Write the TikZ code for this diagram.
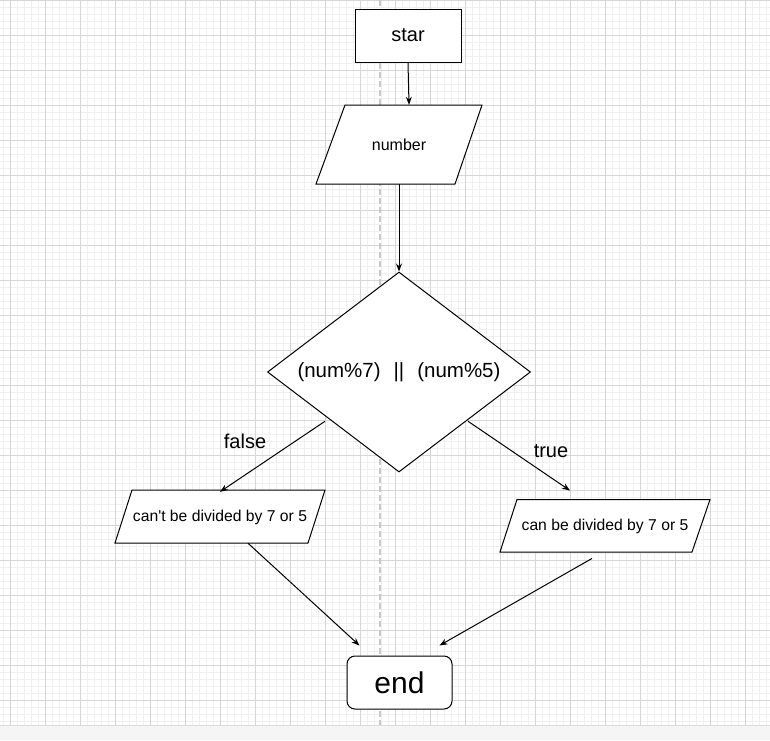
\documentclass[tikz,border=0pt]{standalone}
\usepackage{fontspec}
\setmainfont{Liberation Sans}
\usetikzlibrary{shapes.geometric,arrows.meta}
\definecolor{gridminor}{HTML}{F0F0F0}
\definecolor{gridmajor}{HTML}{D6D6D6}
\definecolor{guide}{HTML}{C8C8C8}
\definecolor{strip}{HTML}{F5F5F5}
\definecolor{stripline}{HTML}{DADADA}
\tikzset{
  box/.style={draw=black, fill=white, line width=1pt, minimum width=106pt, minimum height=53pt, inner sep=0pt},
  iotext/.style={draw=none, inner sep=0pt},
  cond/.style={diamond, draw=black, fill=white, line width=1pt, inner sep=0pt, minimum width=263pt, minimum height=200pt, aspect=1.315},
  term/.style={draw=black, fill=white, rounded corners=8pt, line width=1pt, minimum width=105pt, minimum height=53pt, inner sep=0pt},
  flow/.style={line width=1pt, -{Stealth[length=8pt,width=6pt]}},
  para/.style={draw=black, fill=white, line width=1pt, line join=miter},
  lbl/.style={inner sep=0pt},
}
\begin{document}
\begin{tikzpicture}[x=1pt,y=-1pt]
\useasboundingbox (0,0) rectangle (770,740);
% grid
\foreach \x in {3,10,...,766} \draw[gridminor, line width=0.6pt] (\x,0) -- (\x,725);
\foreach \y in {0.5,7.5,...,721.5} \draw[gridminor, line width=0.6pt] (0,\y) -- (770,\y);
\foreach \x in {10,45,...,745} \draw[gridmajor, line width=0.8pt] (\x,0) -- (\x,725);
\foreach \y in {0.5,35.5,...,700.5} \draw[gridmajor, line width=0.8pt] (0,\y) -- (770,\y);
\draw[guide, line width=1.2pt, dash pattern=on 6pt off 3pt] (380,0) -- (380,725);
\fill[strip] (0,725) rectangle (770,740);
\draw[stripline, line width=1pt] (0,725) -- (770,725);

% shapes
\node[box, font=\fontsize{20}{24}\selectfont] (star) at (408,35.5) {star};

\draw[para] (345,105) -- (482,105) -- (455,184) -- (316,184) -- cycle;
\node[iotext, minimum width=166pt, minimum height=79pt, font=\fontsize{16}{19}\selectfont] (num) at (399,144.5) {number};

\node[cond, font=\fontsize{20.5}{24}\selectfont] (dia) at (399,372) {(num\%7)\hspace{13pt}||\hspace{13pt}(num\%5)};

\draw[para] (132,490) -- (325,490) -- (308,543) -- (115,543) -- cycle;
\node[iotext, minimum width=210pt, minimum height=53pt, font=\fontsize{15.7}{19}\selectfont] (cant) at (220,517.5) {can\textquotesingle t be divided by 7 or 5};

\draw[para] (517,499.5) -- (710,499.5) -- (692,552) -- (500,552) -- cycle;
\node[iotext, minimum width=210pt, minimum height=52.5pt, font=\fontsize{15.7}{19}\selectfont] (can) at (605,526.5) {can be divided by 7 or 5};

\node[term, font=\fontsize{30}{36}\selectfont] (end) at (399.5,682.5) {end};

\node[lbl, font=\fontsize{20}{24}\selectfont] (lblf) at (245,441) {false};
\node[lbl, font=\fontsize{20}{24}\selectfont] (lblt) at (551,451) {true};

% connectors
\draw[flow] (star.south) -- ([xshift=1pt]star.south |- num.north);
\draw[flow] (num.south) -- (dia.north);
\draw[flow] ([xshift=-8pt,yshift=1pt]dia.south west) -- ([yshift=-1pt]cant.north);
\draw[flow] ([xshift=3pt,yshift=1pt]dia.south east) -- ([xshift=-35pt,yshift=9.5pt]can.north);
\draw[flow] ([xshift=28pt,yshift=1pt]cant.south) -- ([xshift=-40pt,yshift=10pt]end.north);
\draw[flow] ([xshift=-13pt,yshift=-5.5pt]can.south) -- ([xshift=40pt,yshift=10pt]end.north);
\end{tikzpicture}
\end{document}
